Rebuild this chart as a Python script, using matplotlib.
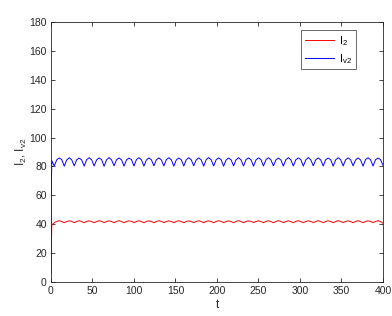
import matplotlib
matplotlib.use('Agg')
import matplotlib.pyplot as plt

plt.rcParams['font.family'] = ['Liberation Sans', 'DejaVu Sans']
plt.rcParams['mathtext.fontset'] = 'custom'
plt.rcParams['mathtext.rm'] = 'Liberation Sans'
plt.rcParams['mathtext.it'] = 'Liberation Sans'
plt.rcParams['mathtext.default'] = 'regular'

# time points (dense at the start where the jump is)
t = [0, 0.4, 1] + list(range(4, 401, 3))

# I_v2 (blue)
Iv2 = [12, 60, 84,
       80.3, 84.6, 85.9, 84.7, 80.2, 84.5, 86.0, 84.6,
       80.4, 84.6, 85.8, 84.5, 80.2, 84.7, 86.0, 84.6,
       80.3, 84.5, 85.9, 84.7, 80.1, 84.6, 86.1, 84.5,
       80.4, 84.6, 85.9, 84.6, 80.2, 84.5, 85.8, 84.7,
       80.3, 84.7, 86.0, 84.6, 80.2, 84.5, 85.9, 84.6,
       80.4, 84.6, 85.9, 84.5, 80.3, 84.7, 86.0, 84.6,
       80.2, 84.5, 85.8, 84.7, 80.3, 84.6, 86.0, 84.6,
       80.4, 84.5, 85.9, 84.5, 80.2, 84.7, 86.1, 84.6,
       80.3, 84.6, 85.9, 84.7, 80.2, 84.5, 85.8, 84.6,
       80.4, 84.6, 86.0, 84.5, 80.3, 84.7, 85.9, 84.6,
       80.2, 84.5, 85.9, 84.7, 80.3, 84.6, 86.0, 84.6,
       80.4, 84.5, 85.8, 84.5, 80.2, 84.7, 86.0, 84.6,
       80.3, 84.6, 85.9, 84.7, 80.2, 84.5, 86.1, 84.6,
       80.4, 84.6, 85.9, 84.5, 80.3, 84.7, 85.8, 84.6,
       80.2, 84.5, 86.0, 84.7, 80.3, 84.6, 85.9, 84.6,
       80.4, 84.5, 85.9, 84.5, 80.2, 84.7, 86.0, 84.6,
       80.3, 84.6, 85.8, 84.7,
       80.8]

# I_2 (red)
I2 = [5, 22, 39.5,
      41.0, 41.9, 42.4, 41.8, 41.0, 41.8, 42.3, 41.9,
      41.1, 41.8, 42.4, 41.8, 41.0, 41.9, 42.3, 41.8,
      41.0, 41.8, 42.4, 41.9, 41.1, 41.8, 42.3, 41.8,
      41.0, 41.9, 42.4, 41.8, 41.0, 41.8, 42.3, 41.9,
      41.1, 41.8, 42.4, 41.8, 41.0, 41.9, 42.3, 41.8,
      41.0, 41.8, 42.4, 41.9, 41.1, 41.8, 42.3, 41.8,
      41.0, 41.9, 42.4, 41.8, 41.0, 41.8, 42.3, 41.9,
      41.1, 41.8, 42.4, 41.8, 41.0, 41.9, 42.3, 41.8,
      41.0, 41.8, 42.4, 41.9, 41.1, 41.8, 42.3, 41.8,
      41.0, 41.9, 42.4, 41.8, 41.0, 41.8, 42.3, 41.9,
      41.1, 41.8, 42.4, 41.8, 41.0, 41.9, 42.3, 41.8,
      41.0, 41.8, 42.4, 41.9, 41.1, 41.8, 42.3, 41.8,
      41.0, 41.9, 42.4, 41.8, 41.0, 41.8, 42.3, 41.9,
      41.1, 41.8, 42.4, 41.8, 41.0, 41.9, 42.3, 41.8,
      41.0, 41.8, 42.4, 41.9, 41.1, 41.8, 42.3, 41.8,
      41.0, 41.9, 42.4, 41.8, 41.0, 41.8, 42.3, 41.9,
      41.1, 41.8, 42.4, 41.8,
      40.6]

xTicks = [0, 50, 100, 150, 200, 250, 300, 350, 400]
yTicks = [0, 20, 40, 60, 80, 100, 120, 140, 160, 180]

fig = plt.figure(figsize=(3.92, 3.16), dpi=100)
ax = fig.add_axes([0.130, 0.108, 0.847, 0.822])

ax.plot(t, I2, color='#ff0000', lw=0.7, label='I$_2$')
ax.plot(t, Iv2, color='#0000ff', lw=0.7, label='I$_{v2}$')

ax.set_xlim(0, 400)
ax.set_ylim(0, 180)
ax.set_xticks(xTicks)
ax.set_yticks(yTicks)
ax.tick_params(direction='in', length=3, width=0.6, labelsize=7.5,
               top=True, right=True, colors='#262626', pad=3)
for s in ax.spines.values():
    s.set_color('#262626')
    s.set_linewidth(0.6)

ax.set_xlabel('t', fontsize=8.5, color='#262626', labelpad=2)
ax.set_ylabel('I$_2$, I$_{v2}$', fontsize=8.5, color='#262626', labelpad=0)

leg = ax.legend(loc='upper right', fontsize=8, frameon=True, fancybox=False,
                edgecolor='#262626', handlelength=2.6, handletextpad=0.5,
                borderpad=0.35, labelspacing=0.35, borderaxespad=0,
                bbox_to_anchor=(0.919, 0.969))
leg.get_frame().set_linewidth(0.6)

fig.savefig('out.png', dpi=100)
